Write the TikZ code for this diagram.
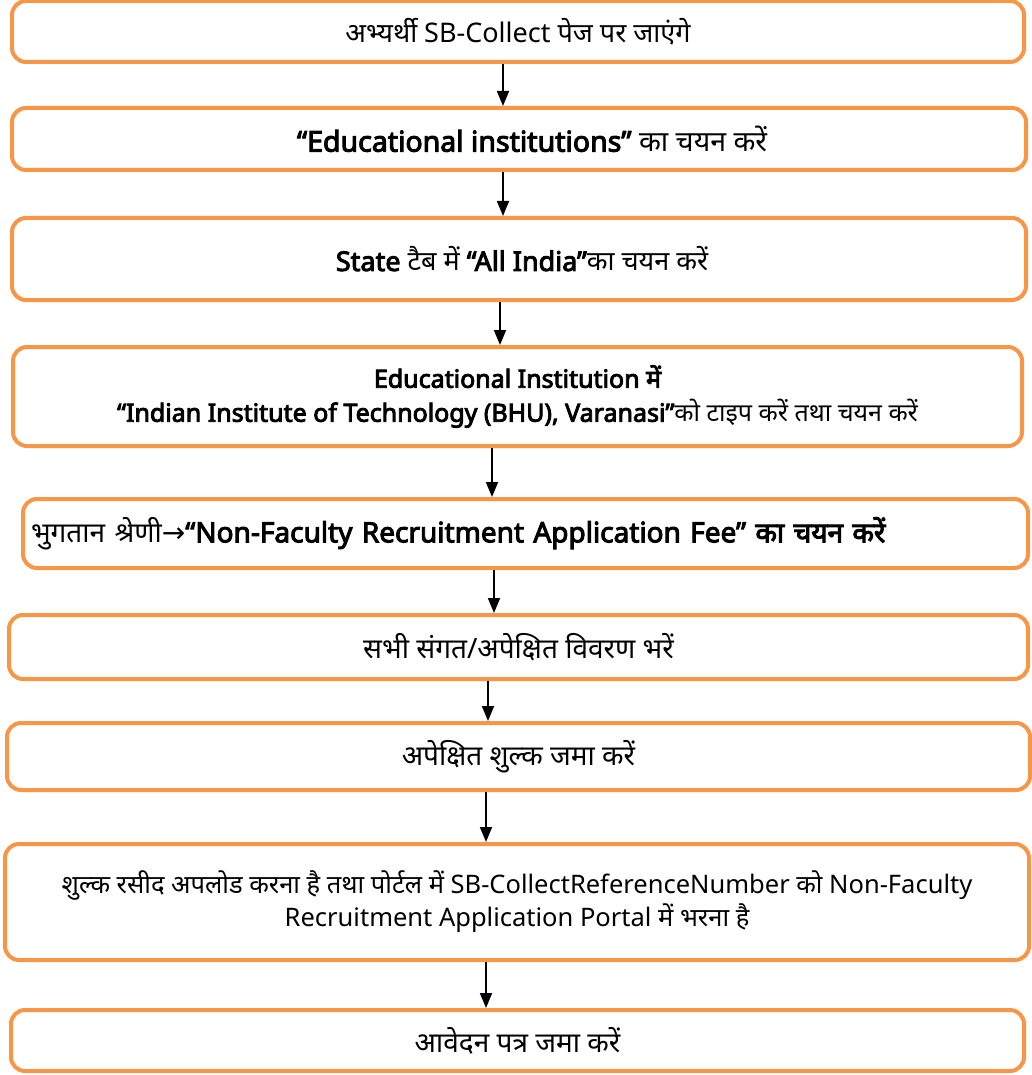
\documentclass[tikz,border=0pt]{standalone}
\usepackage{fontspec}
\setmainfont{Noto Sans}[Script=Devanagari, AutoFakeBold=3.5]
\newfontfamily\symf{DejaVu Sans}
\usetikzlibrary{arrows.meta}
\definecolor{boxorange}{HTML}{F79646}
\tikzset{
  stepbox/.style={draw=boxorange, line width=4pt, rounded corners=14pt, fill=white,
    inner sep=0pt, align=center, font=\fontsize{28}{34}\selectfont},
  midtext/.style={font=\fontsize{27}{34}\selectfont},
  smalltext/.style={font=\fontsize{25}{34}\selectfont},
  arr/.style={line width=1.8pt, -{Triangle[width=12pt,length=15pt]}}
}
\begin{document}
\begin{tikzpicture}[x=1pt,y=-1pt]
\useasboundingbox (0,0) rectangle (1032,1075);
\node[stepbox, font=\fontsize{27}{34}\selectfont, minimum width=1012pt, minimum height=61pt] (b1) at (518,31.5)
  {अभ्यर्थी SB-Collect पेज पर जाएंगे};
\node[stepbox, font=\fontsize{28.5}{34}\selectfont, minimum width=1014pt, minimum height=62pt] (b2) at (519,139)
  {\hspace*{26pt}\textbf{“Educational institutions”} का चयन करें};
\node[stepbox, midtext, minimum width=1014pt, minimum height=82pt] (b3) at (519,259)
  {\hspace*{6pt}\textbf{State} टैब में \textbf{“All India”}का चयन करें};
\node[stepbox, smalltext, minimum width=1009pt, minimum height=99pt] (b4) at (517.5,396.5)
  {\textbf{Educational Institution में}\\\textbf{“Indian Institute of Technology (BHU), Varanasi”}को टाइप करें तथा चयन करें};
\node[stepbox, minimum width=1005pt, minimum height=69pt, text width=989pt, inner xsep=8pt, align=left] (b5) at (525.5,533.5)
  {भुगतान श्रेणी{\symf →}\textbf{“Non-Faculty Recruitment Application Fee” का चयन करें}};
\node[stepbox, minimum width=1019pt, minimum height=64pt] (b6) at (518.5,647)
  {सभी संगत/अपेक्षित विवरण भरें};
\node[stepbox, minimum width=1023pt, minimum height=67pt] (b7) at (518.5,756.5)
  {अपेक्षित शुल्क जमा करें};
\node[stepbox, font=\fontsize{25.5}{33}\selectfont, minimum width=1024pt, minimum height=116pt] (b8) at (517,902)
  {शुल्क रसीद अपलोड करना है तथा पोर्टल में SB-CollectReferenceNumber को Non-Faculty\\Recruitment Application Portal में भरना है};
\node[stepbox, minimum width=1013pt, minimum height=61pt] (b9) at (517.5,1040.5)
  {आवेदन पत्र जमा करें};
\coordinate (a1) at (503,0);
\coordinate (a2) at (503,0);
\coordinate (a3) at (500,0);
\coordinate (a4) at (492,0);
\coordinate (a5) at (494,0);
\coordinate (a6) at (488,0);
\coordinate (a7) at (486,0);
\coordinate (a8) at (486,0);
\draw[arr] (b1.south -| a1) -- (b2.north -| a1);
\draw[arr] (b2.south -| a2) -- (b3.north -| a2);
\draw[arr] (b3.south -| a3) -- (b4.north -| a3);
\draw[arr] (b4.south -| a4) -- (b5.north -| a4);
\draw[arr] (b5.south -| a5) -- (b6.north -| a5);
\draw[arr] (b6.south -| a6) -- (b7.north -| a6);
\draw[arr] (b7.south -| a7) -- (b8.north -| a7);
\draw[arr] (b8.south -| a8) -- (b9.north -| a8);
\end{tikzpicture}
\end{document}
